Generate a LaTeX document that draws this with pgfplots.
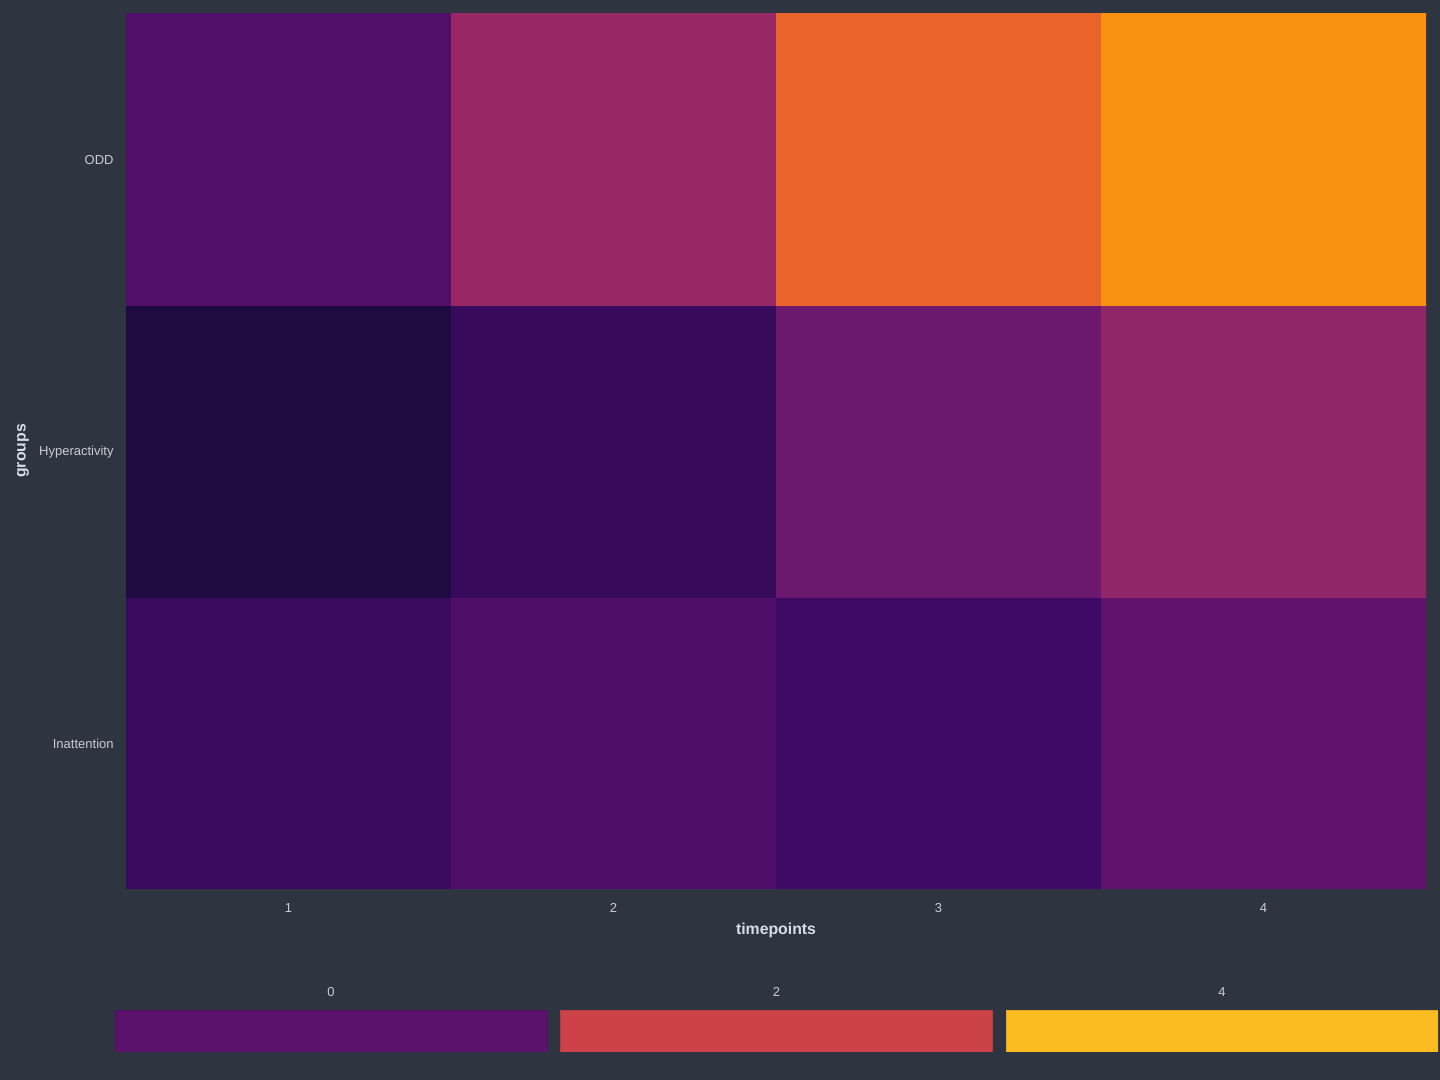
\documentclass[border=0pt]{standalone}
\usepackage{pgfplots}
\pgfplotsset{compat=1.18}
\usepackage{fontspec}
\setmainfont{Liberation Sans}
\definecolor{bg}{HTML}{2E3440}
\definecolor{txt}{HTML}{D8DEE9}
\definecolor{tick}{HTML}{C8CDD6}
\definecolor{leg0}{HTML}{5A126C}
\definecolor{leg2}{HTML}{CC4248}
\definecolor{leg4}{HTML}{FBBC21}
\pgfplotsset{colormap={inferno}{rgb255(0)=(0,0,4) rgb255(1)=(22,11,57) rgb255(2)=(66,10,104) rgb255(3)=(106,23,110) rgb255(4)=(147,38,103) rgb255(5)=(188,55,84) rgb255(6)=(221,81,58) rgb255(7)=(243,120,25) rgb255(8)=(252,165,10) rgb255(9)=(246,215,70) rgb255(10)=(252,255,164)}}
\pgfplotstableread{
x y v
1 1 -0.53
2 1 -0.20
3 1 -0.45
4 1 0.08
1 2 -0.96
2 2 -0.58
3 2 0.31
4 2 0.90
1 3 -0.14
2 3 1.02
3 3 2.64
4 3 3.38
}\cells
\begin{document}
\begin{tikzpicture}
\fill[bg] (0,0) rectangle (720pt,540pt);
\begin{axis}[
  at={(63pt,95.5pt)}, anchor=south west,
  width=650pt, height=438pt, scale only axis,
  xmin=0.5, xmax=4.5, ymin=0.5, ymax=3.5,
  xtick={1,2,3,4}, ytick={1,2,3},
  yticklabels={Inattention,Hyperactivity,ODD},
  axis line style={draw=none}, tick style={draw=none},
  /pgf/number format/assume math mode=true,
  colormap name=inferno,
  point meta min=-1.763, point meta max=5.017,
  tick label style={font=\fontsize{6.5}{8}\selectfont, color=tick},
  xticklabel style={anchor=center, yshift=-9.5pt},
  yticklabel style={anchor=east, inner sep=0pt, xshift=-6pt, yshift=-0.5pt},
  xlabel={timepoints}, ylabel={groups},
  every axis x label/.style={at={(axis description cs:0.5,-0.047)}, anchor=center, font=\bfseries\fontsize{7.9}{9}\selectfont, text=txt},
  every axis y label/.style={at={(axis description cs:-0.0792,0.5)}, anchor=center, rotate=90, font=\bfseries\fontsize{7.9}{9}\selectfont, text=txt},
]
\addplot[matrix plot*, point meta=explicit, mesh/cols=4, mesh/rows=3, draw=none] table[meta=v] {\cells};
\end{axis}
\begin{axis}[
  at={(57.5pt,14pt)}, anchor=south west,
  width=661.5pt, height=21pt, scale only axis,
  xmin=-0.485, xmax=2.485, ymin=0, ymax=1,
  axis line style={draw=none}, tick style={draw=none},
  /pgf/number format/assume math mode=true,
  ytick=\empty, xtick={0,1,2}, xticklabels={0,2,4},
  xticklabel pos=right,
  tick label style={font=\fontsize{6.5}{8}\selectfont, color=tick},
  xticklabel style={anchor=center, yshift=9pt},
]
\addplot[ybar, bar width=0.97, bar shift=0pt, fill=leg0, draw=leg0!90!black, line width=0.25pt] coordinates {(0,1)};
\addplot[ybar, bar width=0.97, bar shift=0pt, fill=leg2, draw=leg2!90!black, line width=0.25pt] coordinates {(1,1)};
\addplot[ybar, bar width=0.97, bar shift=0pt, fill=leg4, draw=leg4!90!black, line width=0.25pt] coordinates {(2,1)};
\end{axis}
\pgfresetboundingbox
\path (0,0) rectangle (720pt,540pt);
\end{tikzpicture}
\end{document}
